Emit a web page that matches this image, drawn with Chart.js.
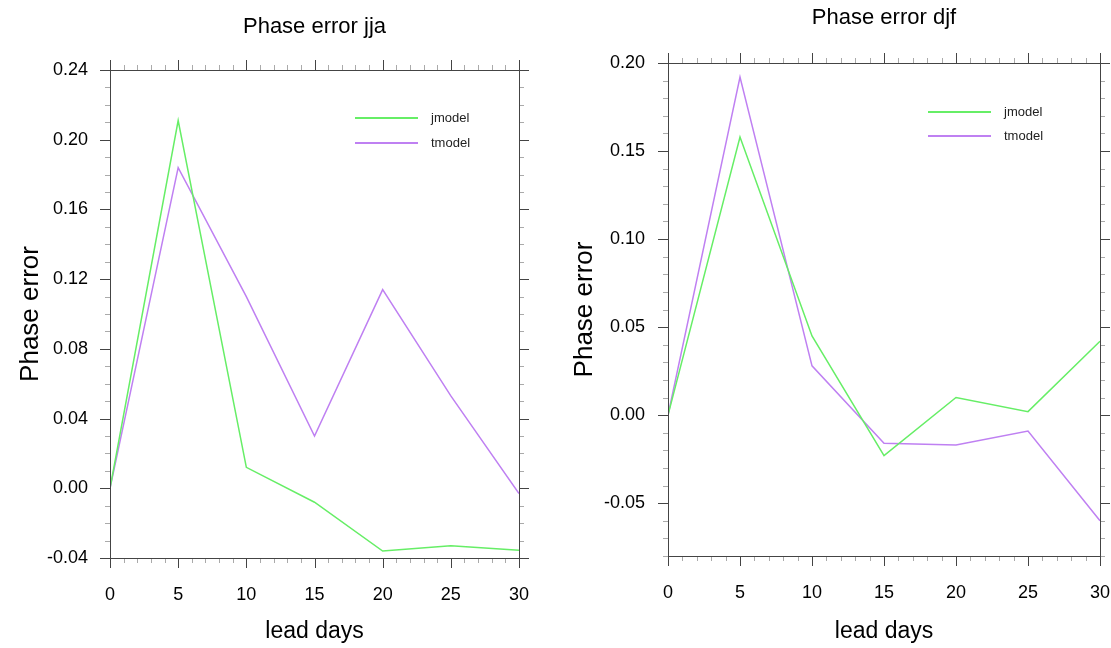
<!DOCTYPE html>
<html>
<head>
<meta charset="utf-8">
<script src="https://cdn.jsdelivr.net/npm/chart.js@4.4.0/dist/chart.umd.min.js"></script>
<style>
    body { margin: 0; background: #fff; width: 1111px; height: 648px; overflow: hidden; position: relative; }
    .panel { position: absolute; top: 0; height: 648px; }
</style>
</head>
<body>
<div class="panel" style="left:0;width:556px"><canvas id="jja" width="556" height="648"></canvas></div>
<div class="panel" style="left:556px;width:555px"><canvas id="djf" width="555" height="648"></canvas></div>
<script>
// lead days (x)
const leadDays = [0, 5, 10, 15, 20, 25, 30];

// JJA
const jjaJmodel = [0, 0.211, 0.012, -0.008, -0.036, -0.033, -0.0355];
const jjaTmodel = [0, 0.184, 0.110, 0.030, 0.114, 0.053, -0.003];

// DJF
const djfJmodel = [0, 0.158, 0.045, -0.023, 0.010, 0.002, 0.042];
const djfTmodel = [0, 0.192, 0.028, -0.016, -0.017, -0.009, -0.060];

// tick labels
const xTicks = [0, 5, 10, 15, 20, 25, 30];
const jjaYTicks = [-0.04, 0, 0.04, 0.08, 0.12, 0.16, 0.20, 0.24];
const djfYTicks = [-0.05, 0, 0.05, 0.10, 0.15, 0.20];

const seriesNames = ['jmodel', 'tmodel'];
const seriesColors = ['#66ee66', '#bf80f2'];

const FONT = "'Liberation Sans', Arial, sans-serif";
Chart.defaults.color = '#000';
Chart.defaults.font.family = FONT;

// frame with outward major/minor tick marks on all four sides
const framePlugin = {
    id: 'frame',
    afterDraw(chart, args, opts) {
        const { ctx, chartArea: a, scales: { x, y } } = chart;
        const line = (x1, y1, x2, y2, c) => {
            ctx.strokeStyle = c;
            ctx.beginPath();
            ctx.moveTo(x1, y1);
            ctx.lineTo(x2, y2);
            ctx.stroke();
        };
        ctx.save();
        ctx.lineWidth = 1;
        for (let d = x.min; d <= x.max; d++) {
            const px = Math.round(x.getPixelForValue(d)) + 0.5;
            const major = d % 5 === 0;
            const len = major ? 10 : 5;
            const c = major ? '#444' : '#aaa';
            line(px, a.bottom, px, a.bottom + len, c);
            line(px, a.top, px, a.top - len, c);
        }
        const n = Math.round((y.max - y.min) / 0.01);
        for (let i = 0; i <= n; i++) {
            const v = y.min + i * 0.01;
            const major = opts.majors.some(m => Math.abs(m - v) < 1e-6);
            const py = Math.round(y.getPixelForValue(v)) + 0.5;
            const len = major ? 10 : 5;
            const c = major ? '#444' : '#aaa';
            line(a.left, py, a.left - len, py, c);
            line(a.right, py, a.right + len, py, c);
        }
        ctx.strokeStyle = '#444';
        ctx.strokeRect(Math.round(a.left) + 0.5, Math.round(a.top) + 0.5,
            Math.round(a.right - a.left), Math.round(a.bottom - a.top));
        ctx.restore();
    }
};

// small line legend inside the plot
const lineLegend = {
    id: 'lineLegend',
    afterDraw(chart, args, opts) {
        const ctx = chart.ctx;
        ctx.save();
        ctx.font = '13px ' + FONT;
        ctx.textBaseline = 'middle';
        chart.data.datasets.forEach((ds, i) => {
            const yy = opts.y + i * opts.gap;
            ctx.strokeStyle = ds.borderColor;
            ctx.lineWidth = 2;
            ctx.beginPath();
            ctx.moveTo(opts.x, yy);
            ctx.lineTo(opts.x + 63, yy);
            ctx.stroke();
            ctx.fillStyle = '#222';
            ctx.fillText(ds.label, opts.x + 76, yy);
        });
        ctx.restore();
    }
};

function makeChart(id, title, jVals, tVals, yMin, yMax, yTicks, cfg) {
    const toPoints = vals => leadDays.map((d, i) => ({ x: d, y: vals[i] }));
    return new Chart(document.getElementById(id), {
        type: 'line',
        data: {
            datasets: [jVals, tVals].map((vals, i) => ({
                label: seriesNames[i],
                data: toPoints(vals),
                borderColor: seriesColors[i],
                borderWidth: 1.5,
                pointRadius: 0,
                tension: 0,
                fill: false
            }))
        },
        options: {
            responsive: false,
            animation: false,
            devicePixelRatio: 1,
            layout: { autoPadding: false, padding: { left: 0, right: cfg.padRight, top: 0, bottom: 0 } },
            scales: {
                x: {
                    type: 'linear',
                    min: 0,
                    max: 30,
                    afterBuildTicks: s => { s.ticks = xTicks.map(v => ({ value: v })); },
                    afterFit: s => {
                        s.height = cfg.xHeight;
                        s.paddingLeft = 0;  // 마지막 라벨 때문에 생기는 여백 제거
                        s.paddingRight = 0;
                    },
                    grid: { display: false, drawTicks: false },
                    border: { display: false },
                    ticks: { autoSkip: false, maxRotation: 0, padding: cfg.xPad, font: { size: 18 } },
                    title: { display: true, text: 'lead days', font: { size: 23 }, padding: { top: 0, bottom: 3 } }
                },
                y: {
                    type: 'linear',
                    min: yMin,
                    max: yMax,
                    afterBuildTicks: s => { s.ticks = yTicks.map(v => ({ value: v })); },
                    afterFit: s => {
                        s.width = cfg.yWidth;
                        s.paddingTop = 0;
                        s.paddingBottom = 0;
                    },
                    grid: { display: false, drawTicks: false },
                    border: { display: false },
                    ticks: { padding: cfg.yPad, font: { size: 18 }, callback: v => v.toFixed(2) },
                    title: { display: true, text: 'Phase error', font: { size: 26 }, padding: { top: cfg.yTitlePad, bottom: 0 } }
                }
            },
            plugins: {
                legend: { display: false },
                tooltip: { enabled: false },
                title: {
                    display: true,
                    text: title,
                    fullSize: false,
                    color: '#000',
                    font: { size: 22, weight: 'normal' },
                    padding: { top: cfg.titleTop, bottom: cfg.titleBottom }
                },
                frame: { majors: yTicks.concat([yMax]) },
                lineLegend: { x: cfg.legendX, y: cfg.legendY, gap: cfg.legendGap }
            }
        },
        plugins: [framePlugin, lineLegend]
    });
}

makeChart('jja', 'Phase error jja', jjaJmodel, jjaTmodel, -0.04, 0.24, jjaYTicks, {
    padRight: 37, xHeight: 90, yWidth: 110, xPad: 26, yPad: 22, yTitlePad: 15,
    titleTop: 14, titleBottom: 29.6, legendX: 355, legendY: 118, legendGap: 25
});

makeChart('djf', 'Phase error djf', djfJmodel, djfTmodel, -0.08, 0.20, djfYTicks, {
    padRight: 11, xHeight: 92, yWidth: 112, xPad: 26, yPad: 23, yTitlePad: 13,
    titleTop: 5, titleBottom: 31.6, legendX: 372, legendY: 112, legendGap: 24
});
</script>
</body>
</html>
